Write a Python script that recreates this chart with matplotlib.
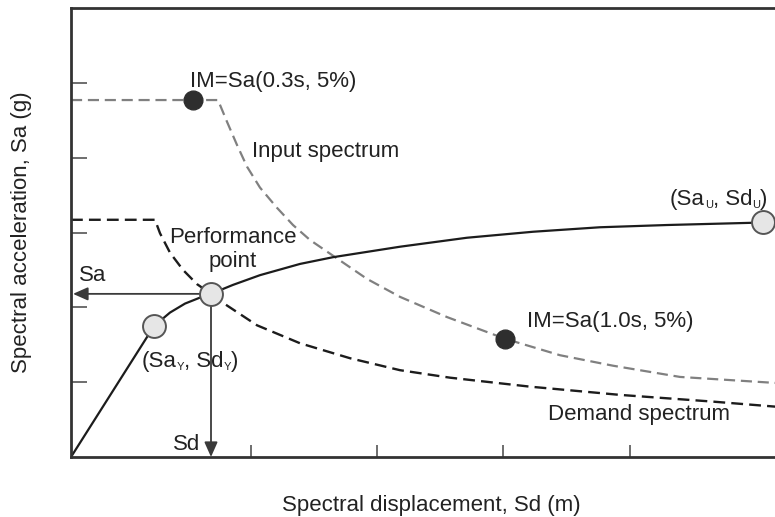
import numpy as np
import matplotlib
matplotlib.use("Agg")
import matplotlib.pyplot as plt

plt.rcParams["font.family"] = ["Liberation Sans", "DejaVu Sans"]

# Input spectrum (gray dashed)
input_sd = [0, 1.47, 1.56, 1.66, 1.76, 1.89, 2.06, 2.22, 2.39, 2.62, 2.96,
            3.29, 3.76, 4.34, 4.89, 5.42, 6.09, 7.04]
input_sa = [4.77, 4.77, 4.48, 4.17, 3.88, 3.60, 3.33, 3.10, 2.90, 2.69, 2.38,
            2.14, 1.87, 1.58, 1.36, 1.22, 1.07, 0.99]

# Demand spectrum (black dashed)
demand_sd = [0, 0.84, 0.89, 0.99, 1.12, 1.26, 1.40, 1.52, 1.86, 2.29, 2.79,
             3.29, 3.79, 4.59, 5.49, 6.42, 7.07]
demand_sa = [3.17, 3.17, 2.99, 2.73, 2.50, 2.31, 2.18, 2.06, 1.76, 1.52, 1.32,
             1.16, 1.06, 0.94, 0.83, 0.74, 0.67]

# Capacity curve (solid)
cap_sd = [0, 0.83, 0.99, 1.14, 1.29, 1.40, 1.62, 1.89, 2.29, 2.62, 3.29,
          3.96, 4.62, 5.29, 5.96, 6.82, 6.92]
cap_sa = [0, 1.75, 1.93, 2.05, 2.13, 2.18, 2.30, 2.43, 2.58, 2.67, 2.81,
          2.93, 3.01, 3.07, 3.10, 3.13, 3.14]

# Special points
im_sd = [1.22, 4.34]
im_sa = [4.77, 1.58]
yield_pt = (0.83, 1.75)
perf_pt = (1.40, 2.18)
ult_pt = (6.92, 3.14)

x_ticks = [1.80, 3.06, 4.32, 5.59]
y_ticks = [1, 2, 3, 4, 5]

TC = "#222222"
FS = 16
SUB_FS = 8


def sub_label(ax, x, y, parts):
    """
    Writes a label made of pieces; small pieces are subscripts
    """
    t = ax.text(x, y, parts[0], fontsize=FS, color=TC, va="baseline")
    for i, s in enumerate(parts[1:]):
        size = SUB_FS if i % 2 == 0 else FS
        t = ax.annotate(s, xy=(1, 0), xycoords=t, fontsize=size, color=TC,
                        va="bottom", ha="left")
    return t


fig = plt.figure(figsize=(7.75, 5.17), dpi=100)
ax = fig.add_axes([71 / 775, 60 / 517, 720 / 775, 449 / 517])
ax.set_xlim(0, 7.2)
ax.set_ylim(0, 6.0)

ax.plot(input_sd, input_sa, color="#808080", lw=1.6, dashes=(5, 2.6))
ax.plot(demand_sd, demand_sa, color="#1c1c1c", lw=1.7, dashes=(5, 2.6))
ax.plot(cap_sd, cap_sa, color="#1c1c1c", lw=1.6, solid_capstyle="butt")

# Sa / Sd arrows from the performance point
arrow = dict(arrowstyle="-|>,head_length=0.9,head_width=0.4",
             color="#3a3a3a", lw=1.3, shrinkA=0, shrinkB=0)
ax.annotate("", xy=(0.02, perf_pt[1]), xytext=perf_pt, arrowprops=arrow)
ax.annotate("", xy=(perf_pt[0], 0.0), xytext=perf_pt, arrowprops=arrow)

ax.plot(im_sd, im_sa, "o", ms=13.5, color="#2e2e2e", mec="#2e2e2e")
for p in [yield_pt, perf_pt, ult_pt]:
    ax.plot(p[0], p[1], "o", ms=16.5, mfc="#e6e6e6", mec="#555555", mew=1.4,
            zorder=5, clip_on=False)

ax.text(1.19, 4.95, "IM=Sa(0.3s, 5%)", fontsize=FS, color=TC, va="baseline")
ax.text(1.81, 4.01, "Input spectrum", fontsize=FS, color=TC, va="baseline")
ax.text(1.62, 2.86, "Performance", fontsize=FS, color=TC, va="baseline", ha="center")
ax.text(1.62, 2.54, "point", fontsize=FS, color=TC, va="baseline", ha="center")
ax.text(0.08, 2.35, "Sa", fontsize=FS, color=TC, va="baseline")
sub_label(ax, 0.71, 1.20, ["(Sa", "Y", ", Sd", "Y", ")"])
ax.text(1.02, 0.09, "Sd", fontsize=FS, color=TC, va="baseline")
sub_label(ax, 5.99, 3.37, ["(Sa", "U", ", Sd", "U", ")"])
ax.text(4.56, 1.74, "IM=Sa(1.0s, 5%)", fontsize=FS, color=TC, va="baseline")
ax.text(4.77, 0.49, "Demand spectrum", fontsize=FS, color=TC, va="baseline")

ax.set_xticks(x_ticks)
ax.set_yticks(y_ticks)
ax.set_xticklabels([])
ax.set_yticklabels([])
ax.tick_params(axis="y", direction="in", length=11.5, width=1.2, color="#555555")
ax.tick_params(axis="x", direction="in", length=9, width=1.2, color="#555555")
for s in ax.spines.values():
    s.set_linewidth(2.0)
    s.set_color("#333333")

fig.text(431 / 775, 1 - 505 / 517, "Spectral displacement, Sd (m)",
         fontsize=FS, color=TC, ha="center", va="center")
fig.text(22 / 775, 1 - 232 / 517, "Spectral acceleration, Sa (g)",
         fontsize=FS, color=TC, ha="center", va="center", rotation=90)

fig.savefig("out.png", dpi=100)
